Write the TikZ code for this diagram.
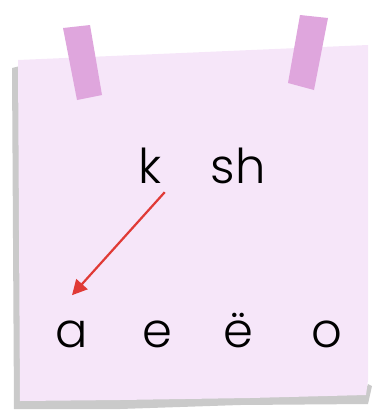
\documentclass[tikz,border=0pt]{standalone}
\usepackage{fontspec}
\setmainfont{Poppins}[UprightFont={* Light}]
\usetikzlibrary{arrows.meta,positioning}
\definecolor{notepink}{HTML}{F6E6F9}
\definecolor{tapepink}{HTML}{DFA6DD}
\definecolor{shadowgrey}{HTML}{CACACA}
\definecolor{arrowred}{HTML}{E03A36}
\tikzset{
  letter/.style = {font=\fontsize{48}{48}\selectfont, inner sep=0pt, anchor=base},
  tape/.style   = {fill=tapepink, draw=none},
  link/.style   = {-{Triangle[length=15pt, width=15pt]}, line width=2.2pt, draw=arrowred},
}
\begin{document}
\begin{tikzpicture}[x=1pt, y=-1pt]
  \useasboundingbox (0,0) rectangle (374,418);
  % shadow and note
  \fill[shadowgrey] (12,68) -- (20,66) -- (20,396) -- (365,392) -- (368,384)
    -- (372,386) -- (368,404) -- (240,405) -- (120,409) -- (14,409) -- cycle;
  \fill[notepink] (18,60) -- (368,45) -- (368,380) -- (366,395) -- (250,398)
    -- (120,400) -- (20,401) -- cycle;
  % tapes
  \fill[tape] (63,28) -- (90,25) -- (102,95) -- (77,100) -- cycle;
  \fill[tape] (300,15) -- (328,18) -- (314,90) -- (288,83) -- cycle;
  % letters
  \node[letter] (k)  at (150,183) {k};
  \node[letter] (sh) at (238,183) {sh};
  \node[letter] (a)  at (72,347)  {a};
  \node[letter] (e)  at (157,347) {e};
  \node[letter] (yo) at (238,347) {ë};
  \node[letter] (o)  at (327,347) {o};
  \draw[link] ([xshift=3pt, yshift=-9pt]k.south east) -- ([yshift=25pt]a.north);
\end{tikzpicture}
\end{document}
